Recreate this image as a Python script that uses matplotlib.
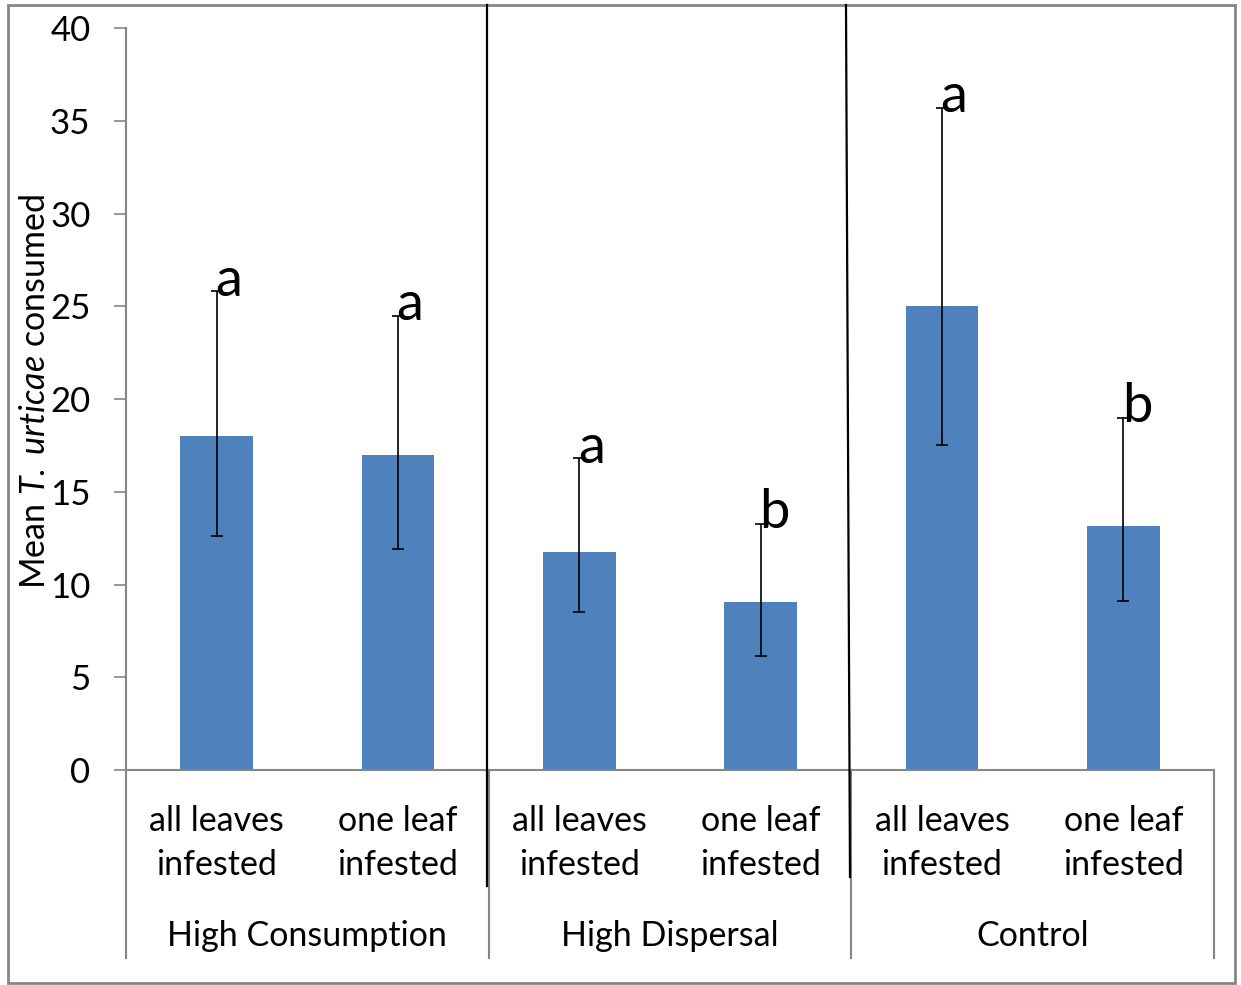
import matplotlib
matplotlib.use('Agg')
import matplotlib.pyplot as plt
from matplotlib.lines import Line2D
from matplotlib.patches import Rectangle
from matplotlib.transforms import blended_transform_factory

plt.rcParams['font.family'] = ['Lato', 'DejaVu Sans']
plt.rcParams['mathtext.fontset'] = 'custom'
plt.rcParams['mathtext.rm'] = 'Lato'
plt.rcParams['mathtext.it'] = 'Lato:italic'

# data
groups = ['High Consumption', 'High Dispersal', 'Control']
treatments = ['all leaves\ninfested', 'one leaf\ninfested']
means = [18.0, 17.0, 11.75, 9.05, 25.0, 13.15]
upper = [25.8, 24.5, 16.8, 13.25, 35.7, 19.0]
lower = [12.6, 11.9, 8.5, 6.15, 17.5, 9.1]
letters = ['a', 'a', 'a', 'b', 'a', 'b']
yticks = [0, 5, 10, 15, 20, 25, 30, 35, 40]

W, H = 1241, 985
BLUE = '#4F81BD'
GRAY = '#868686'

fig = plt.figure(figsize=(W / 100, H / 100), dpi=100)
ax = fig.add_axes([126 / W, 1 - 770 / H, (1214 - 126) / W, (770 - 28) / H])

x = list(range(len(means)))
err = [[m - lo for m, lo in zip(means, lower)], [u - m for m, u in zip(means, upper)]]
ax.bar(x, means, width=0.4, color=BLUE, zorder=2)
ax.errorbar(x, means, yerr=err, fmt='none', ecolor='black', elinewidth=1.2,
            capsize=4.3, capthick=1.2, zorder=3)

for xi, u, lab in zip(x, upper, letters):
    ax.annotate(lab, (xi, u), xytext=(-1, -3), textcoords='offset points',
                ha='left', va='baseline', fontsize=39, zorder=4)

ax.set_xlim(-0.5, len(means) - 0.5)
ax.set_ylim(0, 40)
ax.set_yticks(yticks)
ax.set_xticks([])
ax.tick_params(axis='y', direction='out', length=8.6, width=1.2, color=GRAY,
               pad=17, labelsize=25)
for s in ['top', 'right']:
    ax.spines[s].set_visible(False)
for s in ['left', 'bottom']:
    ax.spines[s].set_color(GRAY)
    ax.spines[s].set_linewidth(1.5)

fig.text(35 / W, 1 - 392 / H, r'Mean $\mathit{T.\ urticae}$ consumed',
         rotation=90, ha='center', va='center', fontsize=24.5)

# two-level category labels
tr = blended_transform_factory(ax.transData, fig.transFigure)
for i, xi in enumerate(x):
    ax.text(xi, 1 - 843 / H, treatments[i % 2], transform=tr, ha='center',
            va='center', fontsize=24.5, linespacing=1.45)
for g, name in enumerate(groups):
    ax.text(2 * g + 0.5, 1 - 936 / H, name, transform=tr, ha='center',
            va='center', fontsize=24.5)
for g in range(len(groups) + 1):
    xs = 2 * g - 0.5
    ax.add_line(Line2D([xs, xs], [1 - 770 / H, 1 - 958 / H], transform=tr,
                       color=GRAY, lw=1.5, clip_on=False))

# hand-drawn separators
fig.add_artist(Line2D([487 / W, 487 / W], [1 - 5 / H, 1 - 886 / H], color='black', lw=1.6))
fig.add_artist(Line2D([846 / W, 850 / W], [1 - 5 / H, 1 - 877 / H], color='black', lw=1.6))

# outer frame
fig.add_artist(Rectangle((8 / W, 1 - 983 / H), (1235 - 8) / W, (983 - 5) / H,
                         transform=fig.transFigure, fill=False, edgecolor=GRAY, lw=2))

fig.savefig('out.png', dpi=100)
